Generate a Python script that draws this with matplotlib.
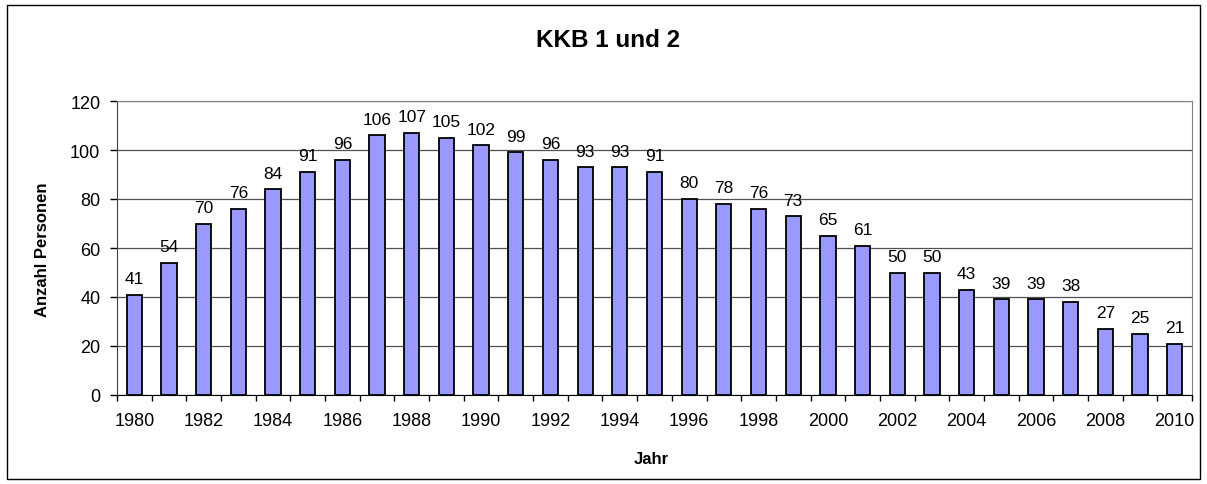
import matplotlib
matplotlib.use('Agg')
import matplotlib.pyplot as plt
from matplotlib.patches import Rectangle
import numpy as np

plt.rcParams['font.family'] = ['Liberation Sans', 'DejaVu Sans']

years = list(range(1980, 2011))
persons = [41, 54, 70, 76, 84, 91, 96, 106, 107, 105, 102, 99, 96, 93, 93, 91,
           80, 78, 76, 73, 65, 61, 50, 50, 43, 39, 39, 38, 27, 25, 21]

W, H = 1207, 485
fig = plt.figure(figsize=(W / 100, H / 100), dpi=100)
ax = fig.add_axes([117 / W, 1 - 396 / H, (1192 - 117) / W, (396 - 102) / H])

x = np.arange(len(years))
ax.bar(x, persons, width=0.44, color='#9999FF', edgecolor='black', linewidth=1.3, zorder=3)
for xi, v in zip(x, persons):
    ax.text(xi, v + 3.5, str(v), ha='center', va='bottom', fontsize=12.5, zorder=4)

ax.set_xlim(-0.5, len(years) - 0.5)
ax.set_ylim(0, 120)
ax.set_yticks(range(0, 121, 20))
ax.yaxis.grid(True, color='#505050', linewidth=0.9, zorder=0)

ax.set_xticks(np.arange(-0.5, len(years), 1.0))
ax.set_xticklabels([])
ax.set_xticks(x[::2], minor=True)
ax.set_xticklabels([str(y) for y in years[::2]], minor=True, fontsize=13)
ax.tick_params(axis='x', which='major', length=4.5, direction='out', width=1)
ax.tick_params(axis='x', which='minor', length=0, pad=12)
ax.tick_params(axis='y', length=5, direction='out', width=1, labelsize=13, pad=7)

for s in ['top', 'right']:
    ax.spines[s].set_color('#808080')
ax.spines['left'].set_color('#404040')
ax.spines['bottom'].set_color('black')

fig.text(651 / W, 1 - 464 / H, 'Jahr', ha='center', va='baseline', fontsize=12, fontweight='bold')
fig.text(43 / W, 1 - 250 / H, 'Anzahl Personen', ha='center', va='center', rotation=90,
         fontsize=12, fontweight='bold')
fig.text(608 / W, 1 - 47 / H, 'KKB 1 und 2', ha='center', va='baseline', fontsize=17.5, fontweight='bold')

fig.patches.append(Rectangle((7 / W, 1 - 480 / H), (1200 - 7) / W, (480 - 6) / H,
                             transform=fig.transFigure, fill=False, edgecolor='black', linewidth=1))

fig.savefig('out.png', dpi=100)
